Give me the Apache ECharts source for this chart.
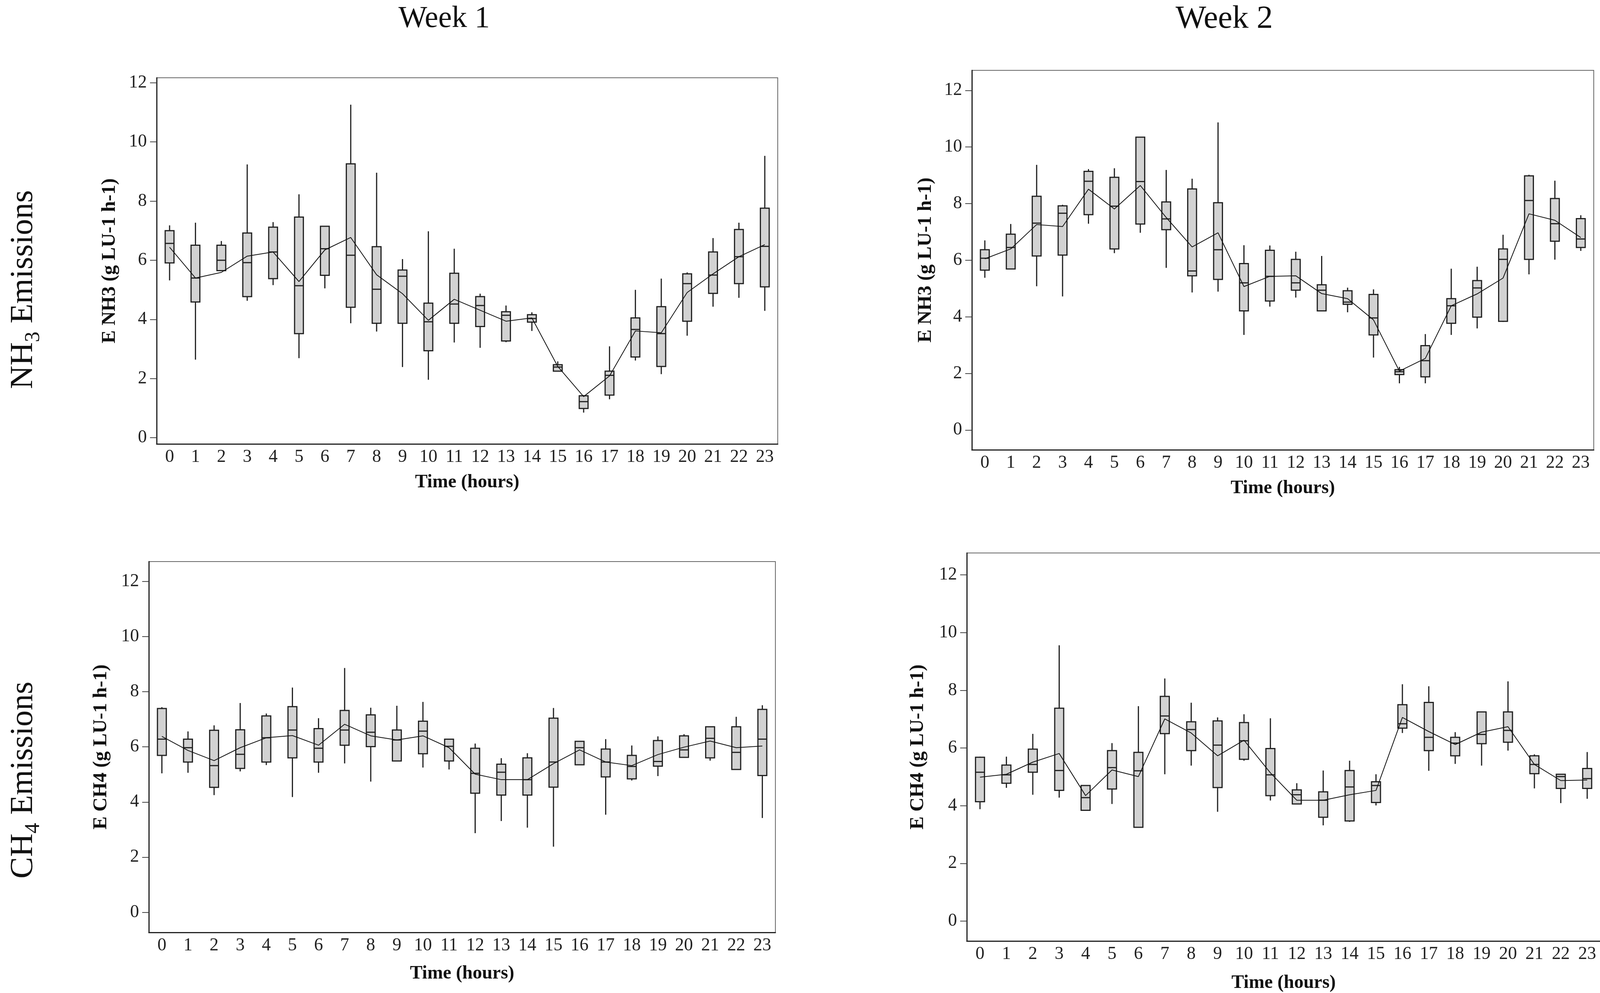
<!DOCTYPE html>
<html><head><meta charset="utf-8">
<script src="https://cdn.jsdelivr.net/npm/echarts@6/dist/echarts.min.js"></script>
<style>html,body{margin:0;padding:0;background:#fff}#c{width:4144px;height:2541px}</style>
</head><body><div id="c"></div>
<script>
// ---------------- data ----------------
const hours = ['0','1','2','3','4','5','6','7','8','9','10','11','12','13','14','15','16','17','18','19','20','21','22','23'];
const yTicks = [0, 2, 4, 6, 8, 10, 12];
const columnTitles = ['Week 1', 'Week 2'];
const xTitle = 'Time (hours)';
const yTitles = ['E NH3 (g LU-1 h-1)', 'E NH3 (g LU-1 h-1)', 'E CH4 (g LU-1 h-1)', 'E CH4 (g LU-1 h-1)'];

// each entry: [whisker low, Q1, median, Q3, whisker high]
const nh3Week1Box = [
  [5.32,5.91,6.57,7.00,7.18],[2.64,4.59,5.40,6.51,7.27],[5.65,5.65,6.00,6.51,6.65],[4.63,4.77,5.92,6.92,9.24],
  [5.16,5.38,6.28,7.12,7.29],[2.69,3.52,5.14,7.46,8.23],[5.05,5.49,6.39,7.15,7.15],[3.87,4.41,6.17,9.26,11.26],
  [3.59,3.87,5.02,6.46,8.96],[2.39,3.87,5.46,5.67,6.04],[1.96,2.94,3.92,4.55,6.98],[3.22,3.87,4.52,5.56,6.39],
  [3.04,3.76,4.47,4.77,4.87],[3.23,3.27,4.14,4.26,4.47],[3.61,3.91,4.03,4.16,4.24],[2.25,2.25,2.39,2.47,2.58],
  [0.85,0.99,1.22,1.42,1.44],[1.30,1.44,2.11,2.25,3.09],[2.61,2.73,3.66,4.05,5.00],[2.15,2.41,3.52,4.43,5.38],
  [3.45,3.94,5.21,5.54,5.59],[4.43,4.88,5.50,6.28,6.75],[4.73,5.21,6.12,7.04,7.27],[4.29,5.10,6.47,7.76,9.53]
];
const nh3Week1Mean = [6.44,5.40,5.59,6.14,6.28,5.28,6.35,6.77,5.51,4.87,3.97,4.68,4.31,3.94,4.05,2.41,1.39,2.09,3.61,3.55,4.91,5.54,6.12,6.53];

const nh3Week2Box = [
  [5.38,5.65,6.07,6.37,6.70],[5.69,5.69,6.45,6.92,7.28],[5.08,6.15,7.31,8.26,9.37],[4.72,6.18,7.66,7.92,7.96],
  [7.29,7.61,8.79,9.14,9.22],[6.25,6.40,7.91,8.93,9.25],[6.97,7.28,8.78,10.35,10.35],[5.73,7.08,7.46,8.06,9.19],
  [4.86,5.45,5.62,8.52,8.88],[4.89,5.32,6.37,8.03,10.87],[3.36,4.21,5.20,5.88,6.53],[4.36,4.56,5.43,6.35,6.52],
  [4.68,4.94,5.20,6.03,6.30],[4.19,4.21,4.94,5.13,6.15],[4.16,4.44,4.52,4.92,5.03],[2.56,3.36,3.96,4.79,4.97],
  [1.65,1.96,2.06,2.13,2.23],[1.65,1.88,2.45,2.98,3.39],[3.36,3.77,4.39,4.64,5.70],[3.59,3.99,5.02,5.28,5.77],
  [3.82,3.84,6.03,6.40,6.90],[5.50,6.03,8.11,8.98,9.02],[6.02,6.67,7.29,8.18,8.81],[6.33,6.45,6.75,7.47,7.59]
];
const nh3Week2Mean = [6.05,6.40,7.26,7.19,8.51,7.81,8.64,7.51,6.47,6.97,5.07,5.43,5.45,4.82,4.64,3.89,2.08,2.53,4.39,4.81,5.37,7.64,7.41,6.80];

const ch4Week1Box = [
  [5.04,5.69,6.28,7.39,7.44],[5.06,5.45,5.97,6.28,6.56],[4.25,4.53,5.32,6.60,6.78],[5.11,5.22,5.73,6.62,7.59],
  [5.34,5.45,6.33,7.12,7.21],[4.18,5.60,6.61,7.46,8.15],[5.06,5.45,5.95,6.66,7.04],[5.40,6.06,6.61,7.32,8.86],
  [4.74,6.01,6.53,7.16,7.42],[5.49,5.49,6.25,6.61,7.49],[5.25,5.75,6.57,6.93,7.63],[5.18,5.49,6.02,6.28,6.30],
  [2.87,4.32,5.04,5.95,6.12],[3.31,4.25,5.08,5.37,5.59],[3.07,4.25,4.81,5.60,5.77],[2.38,4.54,5.45,7.04,7.41],
  [5.35,5.35,5.97,6.20,6.20],[3.54,4.91,5.45,5.92,6.28],[4.78,4.84,5.29,5.69,6.05],[4.94,5.30,5.47,6.23,6.38],
  [5.62,5.62,5.89,6.40,6.46],[5.50,5.60,6.31,6.73,6.73],[5.18,5.18,5.80,6.73,7.09],[3.42,4.96,6.28,7.36,7.51]
];
const ch4Week1Mean = [6.38,5.87,5.50,5.97,6.33,6.41,6.06,6.82,6.40,6.25,6.40,5.97,5.01,4.81,4.81,5.39,5.89,5.45,5.32,5.72,5.99,6.21,5.97,6.03];

const ch4Week2Box = [
  [3.88,4.14,5.16,5.68,5.70],[4.62,4.78,5.07,5.41,5.70],[4.38,5.16,5.43,5.96,6.49],[4.28,4.53,5.22,7.38,9.56],
  [3.84,3.84,4.28,4.70,4.70],[4.06,4.58,5.32,5.91,6.17],[3.25,3.25,5.21,5.85,7.45],[5.09,6.50,7.11,7.79,8.41],
  [5.39,5.91,6.64,6.91,7.57],[3.79,4.63,6.10,6.94,7.06],[5.56,5.61,6.25,6.88,7.17],[4.18,4.35,5.07,5.98,7.03],
  [4.06,4.06,4.38,4.55,4.78],[3.32,3.60,4.19,4.48,5.22],[3.44,3.47,4.65,5.22,5.56],[4.01,4.11,4.70,4.83,5.09],
  [6.52,6.69,6.84,7.50,8.21],[5.21,5.91,6.37,7.58,8.14],[5.45,5.73,6.17,6.37,6.55],[5.39,6.15,6.47,7.25,7.25],
  [5.91,6.20,6.61,7.25,8.31],[4.60,5.11,5.43,5.73,5.78],[4.09,4.60,5.01,5.09,5.09],[4.24,4.60,4.94,5.29,5.86]
];
const ch4Week2Mean = [4.99,5.09,5.51,5.81,4.35,5.24,5.01,7.01,6.52,5.73,6.27,5.14,4.19,4.19,4.38,4.53,7.06,6.57,6.12,6.55,6.74,5.43,4.87,4.89];

// ---------------- layout / style ----------------
const FONT = '"Liberation Serif", "Times New Roman", serif';
const panels = [
  { box: nh3Week1Box, mean: nh3Week1Mean, grid: {left: 401, top: 199, width: 1590, height: 937}, yMin: -0.21, yMax: 12.17, xGap: 75, yGap: 95 },
  { box: nh3Week2Box, mean: nh3Week2Mean, grid: {left: 2488, top: 180, width: 1592, height: 971}, yMin: -0.70, yMax: 12.71, xGap: 75, yGap: 93 },
  { box: ch4Week1Box, mean: ch4Week1Mean, grid: {left: 381, top: 1437, width: 1604, height: 949}, yMin: -0.73, yMax: 12.72, xGap: 82, yGap: 97 },
  { box: ch4Week2Box, mean: ch4Week2Mean, grid: {left: 2475, top: 1415, width: 1622, height: 995}, yMin: -0.69, yMax: 12.76, xGap: 84, yGap: 100 }
];

function renderBox(params, api) {
  const i = api.value(0);
  const x = api.coord([i, 0])[0];
  const py = k => api.coord([i, api.value(k)])[1];
  const lo = py(1), q1 = py(2), md = py(3), q3 = py(4), hi = py(5);
  const w = api.size([1, 0])[0] * 0.34;
  const stroke = '#202020';
  return {
    type: 'group',
    children: [
      {type: 'line', shape: {x1: x, y1: hi, x2: x, y2: q3}, style: {stroke: stroke, lineWidth: 3}},
      {type: 'line', shape: {x1: x, y1: q1, x2: x, y2: lo}, style: {stroke: stroke, lineWidth: 3}},
      {type: 'rect', shape: {x: x - w / 2, y: q3, width: w, height: Math.max(q1 - q3, 2)}, style: {fill: '#d2d2d2', stroke: stroke, lineWidth: 3}},
      {type: 'line', shape: {x1: x - w / 2, y1: md, x2: x + w / 2, y2: md}, style: {stroke: stroke, lineWidth: 3}}
    ]
  };
}

const rowRich = {
  n: {fontFamily: FONT, fontSize: 83, lineHeight: 106, verticalAlign: 'middle', fill: '#111'},
  s: {fontFamily: FONT, fontSize: 54, lineHeight: 54, verticalAlign: 'bottom', fill: '#111'}
};

const option = {
  animation: false,
  backgroundColor: '#fff',
  grid: [], xAxis: [], yAxis: [], series: [],
  graphic: [
    {type: 'text', x: 1137, y: 49, style: {text: columnTitles[0], fontFamily: FONT, fontSize: 78, fill: '#111', align: 'center', verticalAlign: 'middle'}},
    {type: 'text', x: 3134, y: 49, style: {text: columnTitles[1], fontFamily: FONT, fontSize: 83, fill: '#111', align: 'center', verticalAlign: 'middle'}},
    {type: 'text', x: 60, y: 741, rotation: Math.PI / 2, style: {
      text: '{n|NH}{s|3}{n| Emissions}', align: 'center', verticalAlign: 'middle', fill: '#111', rich: rowRich}},
    {type: 'text', x: 60, y: 1996, rotation: Math.PI / 2, style: {
      text: '{n|CH}{s|4}{n| Emissions}', align: 'center', verticalAlign: 'middle', fill: '#111', rich: rowRich}}
  ]
};

panels.forEach((p, k) => {
  option.grid.push(Object.assign({show: true, borderColor: '#666', borderWidth: 2, backgroundColor: 'transparent', containLabel: false}, p.grid));
  option.xAxis.push({
    type: 'category', gridIndex: k, data: hours, boundaryGap: true,
    axisLine: {onZero: false, lineStyle: {color: '#222', width: 3}},
    axisTick: {alignWithLabel: true, length: 11, lineStyle: {color: '#555', width: 2}},
    axisLabel: {interval: 0, margin: 11, fontFamily: FONT, fontSize: 46, color: '#222'},
    splitLine: {show: false},
    name: xTitle, nameLocation: 'middle', nameGap: p.xGap,
    nameTextStyle: {fontFamily: FONT, fontWeight: 'bold', fontSize: 48, color: '#111'}
  });
  option.yAxis.push({
    type: 'value', gridIndex: k, min: p.yMin, max: p.yMax,
    axisLine: {show: true, lineStyle: {color: '#222', width: 3}},
    axisTick: {show: true, length: 17, customValues: yTicks, lineStyle: {color: '#444', width: 2}},
    axisLabel: {customValues: yTicks, margin: 25, fontFamily: FONT, fontSize: 46, color: '#222'},
    splitLine: {show: false},
    name: yTitles[k], nameLocation: 'middle', nameGap: p.yGap, nameRotate: 90,
    nameTextStyle: {fontFamily: FONT, fontWeight: 'bold', fontSize: 50, color: '#111'}
  });
  option.series.push({
    type: 'custom', xAxisIndex: k, yAxisIndex: k, renderItem: renderBox,
    encode: {x: 0, y: [1, 2, 3, 4, 5]},
    data: p.box.map((b, i) => [i].concat(b)), z: 2
  });
  option.series.push({
    type: 'line', xAxisIndex: k, yAxisIndex: k, data: p.mean,
    symbol: 'none', showSymbol: false, lineStyle: {color: '#111', width: 2}, z: 5
  });
});

const chart = echarts.init(document.getElementById('c'));
chart.setOption(option);
</script>
</body></html>
